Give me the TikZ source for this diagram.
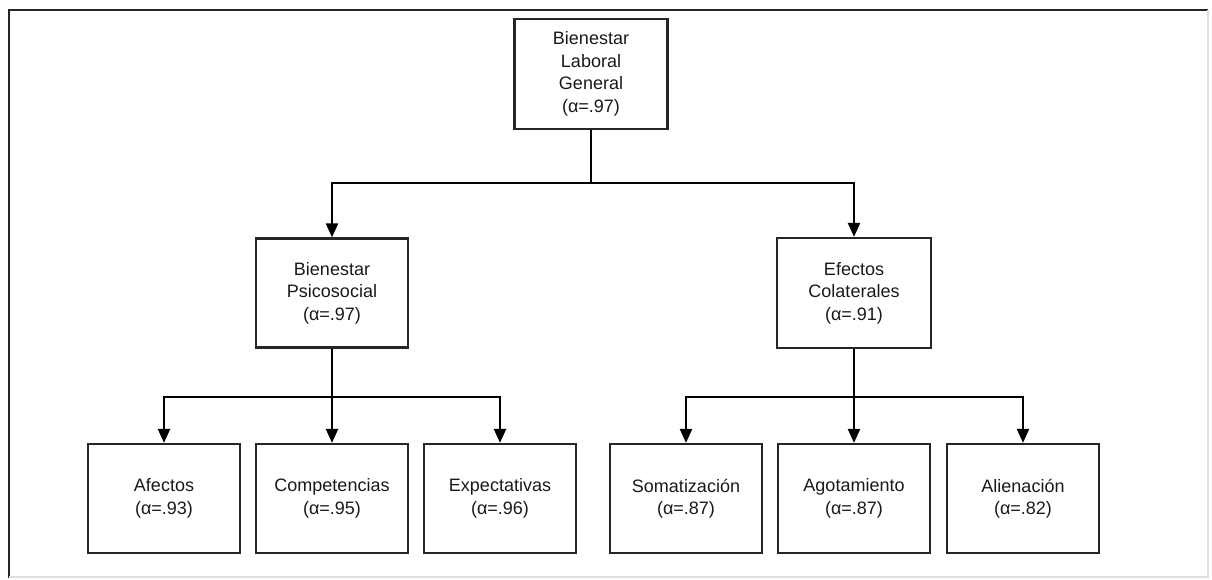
\documentclass[tikz,border=0pt]{standalone}
\usepackage{fontspec}
\setmainfont{Liberation Sans}
\usetikzlibrary{arrows.meta}
\begin{document}
\begin{tikzpicture}[x=1pt,y=-1pt,
  box/.style={draw=black!85, line width=2.2pt, inner sep=0pt, align=center,
    minimum width=152pt, minimum height=109pt,
    font=\fontsize{18}{22.5}\selectfont, text=black!90},
  conn/.style={line width=2.2pt, black},
  arr/.style={conn, -{Triangle[width=12pt,length=14pt]}}]
\useasboundingbox (0,0) rectangle (1212,580);
% frame
\draw[black!85, line width=2.2pt] (9,578) -- (9,10) -- (1208,10);
\draw[black!12, line width=1.5pt] (1208,10) -- (1208,577) -- (9,577);
% nodes
\node[box, minimum width=153pt, minimum height=110pt] (top) at (591,74) {Bienestar\\Laboral\\General\\(α=.97)};
\node[box] (psi) at (332,293) {Bienestar\\Psicosocial\\(α=.97)};
\node[box, minimum width=154pt, minimum height=110pt] (efe) at (854,293) {Efectos\\Colaterales\\(α=.91)};
\node[box] (afe) at (164,498.5) {Afectos\\(α=.93)};
\node[box] (com) at (332,498.5) {Competencias\\(α=.95)};
\node[box] (exp) at (500,498.5) {Expectativas\\(α=.96)};
\node[box] (som) at (686,498.5) {Somatización\\(α=.87)};
\node[box] (ago) at (854,498.5) {Agotamiento\\(α=.87)};
\node[box] (ali) at (1023,498.5) {Alienación\\(α=.82)};
% junctions
\coordinate (j1) at (591,183);
\coordinate (j2) at (332,397);
\coordinate (j3) at (854,397);
% connectors
\draw[conn] (top) -- (j1);
\draw[arr] (j1) -| (psi);
\draw[arr] (j1) -| (efe);
\draw[conn] (psi) -- (j2);
\draw[arr] (j2) -| (afe);
\draw[arr] (j2) -- (com);
\draw[arr] (j2) -| (exp);
\draw[conn] (efe) -- (j3);
\draw[arr] (j3) -| (som);
\draw[arr] (j3) -- (ago);
\draw[arr] (j3) -| (ali);
\end{tikzpicture}
\end{document}
